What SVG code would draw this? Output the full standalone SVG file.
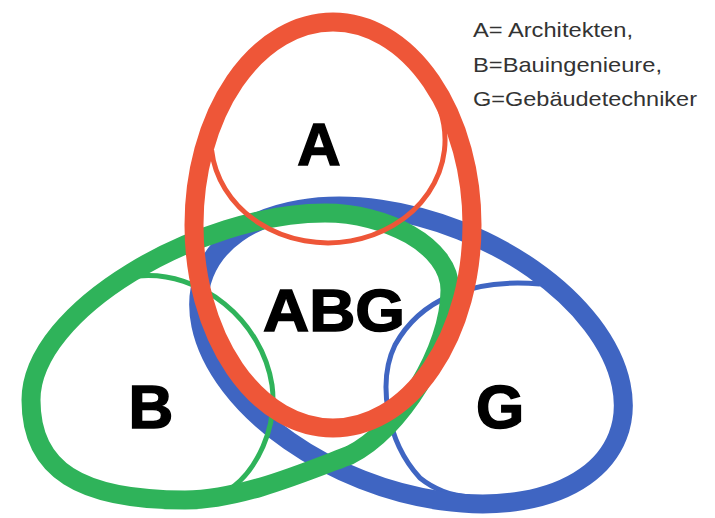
<svg xmlns="http://www.w3.org/2000/svg" width="715" height="518" viewBox="0 0 715 518">
<style>
.thick{fill:none;stroke-width:19}
.thin{fill:none;stroke-width:5}
.red{stroke:#EE5638}
.green{stroke:#2FB35A}
.blue{stroke:#3F65C2}
.big{font-family:"Liberation Sans",Arial,sans-serif;font-weight:bold;fill:#000;stroke:#000;stroke-width:1.5;text-anchor:middle}
.legend{font-family:"Liberation Sans",Arial,sans-serif;font-size:21px;fill:#333333}
</style>
<rect width="715" height="518" fill="#ffffff"/>
<g id="connectors">
</g>
<g id="G">
<path class="thin blue" d="M540,284 C470,278 420,300 395,345 C378,380 385,440 420,478 C435,490 450,495 470,497"/>
<ellipse class="thick blue" cx="411" cy="355" rx="222" ry="134" transform="rotate(21.5 411 355)"/>
<text class="big" x="500" y="428" font-size="62">G</text>
</g>
<g id="B">
<path class="thin green" d="M138,276 C200,270 262,320 272,385 C278,430 255,470 233,487"/>
<path class="thick green" d="M31,400 C31,310 200,213 325,213 C385,213 450,245 450,290 C450,350 400,430 350,455 C305,472 240,500 185,500 C80,500 31,470 31,400 Z"/>
<text class="big" x="151" y="428" font-size="62">B</text>
</g>
<g id="A">
<path class="thin red" d="M211.6,150 A117,103 0 1 0 440,110"/>
<ellipse class="thick red" cx="333" cy="225" rx="139" ry="203"/>
<text class="big" x="319" y="165" font-size="60">A</text>
</g>
<g id="ABG">
<text class="big" x="334" y="331" font-size="60" textLength="142" lengthAdjust="spacingAndGlyphs">ABG</text>
</g>
<g id="legend">
<text class="legend" x="473" y="37" textLength="160" lengthAdjust="spacingAndGlyphs">A= Architekten,</text>
<text class="legend" x="473" y="72" textLength="189" lengthAdjust="spacingAndGlyphs">B=Bauingenieure,</text>
<text class="legend" x="473" y="106" textLength="224" lengthAdjust="spacingAndGlyphs">G=Gebäudetechniker</text>
</g>
</svg>
